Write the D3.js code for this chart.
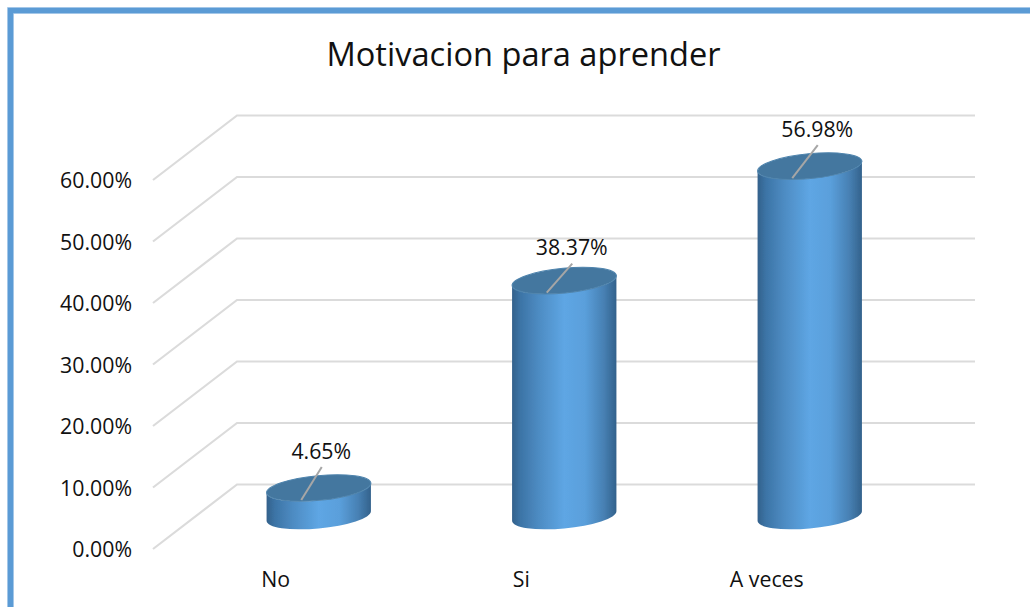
<!DOCTYPE html>
<html><head><meta charset="utf-8">
<script src="https://cdn.jsdelivr.net/npm/d3@7"></script>
<style>html,body{margin:0;padding:0;background:#fff}svg{display:block}text{font-family:"Open Sans",sans-serif;fill:#111}</style>
</head><body><svg id="c" width="1030" height="607"></svg>
<script>
const categories = ["No", "Si", "A veces"];
const values = [0.0465, 0.3837, 0.5698];
const tickValues = [0, 0.1, 0.2, 0.3, 0.4, 0.5, 0.6];
const titleText = "Motivacion para aprender";

const W = 1030, H = 607;
const svg = d3.select("#c");
const depthX = 84, depthY = -64.5;
const x = d3.scaleBand().domain(categories).range([153, 889.5]);
const y = d3.scaleLinear().domain([0, 0.6]).range([549, 180]);
const fmt = d3.format(".2%");
const labelSize = "21.3px";

const defs = svg.append("defs");
const grad = defs.append("linearGradient").attr("id", "body").attr("x1", 0).attr("x2", 1).attr("y1", 0).attr("y2", 0);
[[0, "#33618b"], [0.08, "#3c74a6"], [0.25, "#4d8bc2"], [0.5, "#5ea6e4"], [0.7, "#5a9fdb"], [0.88, "#4780b3"], [1, "#33628c"]]
  .forEach(([o, c]) => grad.append("stop").attr("offset", o).attr("stop-color", c));
const soft = defs.append("filter").attr("id", "soft").attr("x", "-5%").attr("y", "-5%").attr("width", "110%").attr("height", "110%");
soft.append("feGaussianBlur").attr("stdDeviation", 0.5);
const softLine = defs.append("filter").attr("id", "softLine").attr("filterUnits", "userSpaceOnUse")
  .attr("x", 0).attr("y", 0).attr("width", W).attr("height", H);
softLine.append("feGaussianBlur").attr("stdDeviation", 0.4);

// frame
const frame = svg.append("g");
frame.append("path").attr("d", `M10.5,${H}V10.5H${W}`).attr("fill", "none").attr("stroke", "#bcd6ee").attr("stroke-width", 7);
frame.append("path").attr("d", `M10.5,${H}V10.5H${W}`).attr("fill", "none").attr("stroke", "#5b9bd5").attr("stroke-width", 5.5);

// title
svg.append("text").attr("x", 523.5).attr("y", 66).attr("text-anchor", "middle")
  .style("font-size", "32.6px").text(titleText);

// walls: back gridlines and side diagonals
const grid = svg.append("g").attr("fill", "none").attr("stroke", "#dbdbdb").attr("stroke-width", 2.2).attr("filter", "url(#softLine)");
tickValues.forEach(t => {
  const y0 = y(t);
  grid.append("path").attr("d", d3.line()([[153, y0], [153 + depthX, y0 + depthY], [975, y0 + depthY]]));
});

// value axis
const axis = svg.append("g").attr("transform", "translate(132,0)")
  .call(d3.axisLeft(y).tickValues(tickValues).tickFormat(fmt).tickSize(0).tickPadding(0));
axis.select(".domain").remove();
axis.selectAll("text").attr("fill", "#111").style("font-size", labelSize).style("font-family", '"Open Sans",sans-serif').attr("dy", "0.36em");

// category axis
const xAxis = svg.append("g").attr("transform", "translate(0,579)")
  .call(d3.axisBottom(x).tickSize(0).tickPadding(0));
xAxis.select(".domain").remove();
xAxis.selectAll("text").attr("fill", "#111").style("font-size", labelSize).style("font-family", '"Open Sans",sans-serif').attr("dy", "0.36em");

// cylinders
const rx = 52.4, ry = 12.4, deg = -5.5, th = deg * Math.PI / 180;
const tx = Math.sqrt((rx * Math.cos(th)) ** 2 + (ry * Math.sin(th)) ** 2);
const ty = (rx * rx - ry * ry) * Math.sin(th) * Math.cos(th) / tx;
const depthMid = 32.4, shiftX = 43;

const bars = svg.append("g").selectAll("g").data(categories.map((c, i) => ({ c, v: values[i] }))).join("g");
bars.each(function (d) {
  const g = d3.select(this);
  const cx = x(d.c) + x.bandwidth() / 2 + shiftX;
  const yt = y(d.v) - depthMid, yb = y(0) - depthMid - 0.6;
  const body = `M${cx - tx},${yt - ty}L${cx - tx},${yb - ty}` +
    `A${rx},${ry},${deg},0,0,${cx + tx},${yb + ty}` +
    `L${cx + tx},${yt + ty}A${rx},${ry},${deg},0,1,${cx - tx},${yt - ty}Z`;
  g.append("path").attr("d", body).attr("fill", "url(#body)").attr("filter", "url(#soft)");
  g.append("ellipse").attr("cx", cx).attr("cy", yt).attr("rx", rx).attr("ry", ry)
    .attr("transform", `rotate(${deg} ${cx} ${yt})`).attr("fill", "#44779f")
    .attr("stroke", "#4f84ad").attr("stroke-width", 1);
  // leader line
  const up = d.v > 0.3 && d.v < 0.5 ? 17 : 21;
  const lean = d.v < 0.1 ? 3 : 8;
  g.append("line").attr("x1", cx - 17.5).attr("y1", yt + 12).attr("x2", cx + lean).attr("y2", yt - up)
    .attr("stroke", "#a6a6a6").attr("stroke-width", 2);
  g.append("text").attr("x", cx + lean - 0.5).attr("y", yt - up - 8.5).attr("text-anchor", "middle")
    .style("font-size", labelSize).text(fmt(d.v));
});
</script></body></html>
